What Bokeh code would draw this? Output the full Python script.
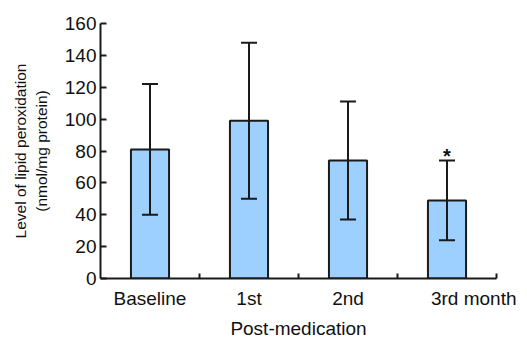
from bokeh.plotting import figure
from bokeh.models import (ColumnDataSource, Range1d, FixedTicker, Whisker, TeeHead)
from bokeh.core.properties import value
from bokeh.embed import file_html
from bokeh.resources import INLINE

categories = ["Baseline", "1st", "2nd", "3rd"]
last_suffix = "month"
means = [81, 99, 74, 49]
sds = [41, 49, 37, 25]
significant = [False, False, False, True]
y_ticks = [0, 20, 40, 60, 80, 100, 120, 140, 160]

FONT = "Liberation Sans"
NB = "\u00a0"
xs = [i + 0.5 for i in range(len(categories))]
src = ColumnDataSource(dict(
    x=xs, top=means,
    upper=[m + s for m, s in zip(means, sds)],
    lower=[m - s for m, s in zip(means, sds)],
))

p = figure(frame_width=396, frame_height=255, output_backend="svg", toolbar_location=None,
           x_range=Range1d(0, len(categories)), y_range=Range1d(0, 160),
           min_border_left=100, min_border_right=20, min_border_top=23, min_border_bottom=50)
p.outline_line_color = None
p.xgrid.visible = False
p.ygrid.visible = False

p.vbar(x="x", top="top", width=0.385, bottom=0, source=src,
       fill_color="#9dcfff", line_color="#1a1a1a", line_width=2)

w = Whisker(base="x", upper="upper", lower="lower", source=src,
            line_color="#1a1a1a", line_width=2,
            upper_head=TeeHead(size=16, line_width=2, line_color="#1a1a1a"),
            lower_head=TeeHead(size=16, line_width=2, line_color="#1a1a1a"))
w.level = "overlay"
p.add_layout(w)

sx = [x for x, s in zip(xs, significant) if s]
sy = [m + s for m, s, g in zip(means, sds, significant) if g]
p.text(x=sx, y=[v + 3 for v in sy], text=["*"] * len(sx), text_align="center",
       text_baseline="middle", text_font=value(FONT), text_font_size="20px",
       text_font_style="bold", text_color="#111111")

# x axis labels; last one carries the "month" suffix, padded so "3rd" stays centred
labels = list(categories)
labels[-1] = NB * 11 + categories[-1] + NB + last_suffix

xa = p.xaxis[0]
xa.ticker = FixedTicker(ticks=xs, minor_ticks=list(range(1, len(categories) + 1)))
xa.major_label_overrides = {x: c for x, c in zip(xs, labels)}
xa.major_tick_in = 0
xa.major_tick_out = 0
xa.minor_tick_in = 5
xa.minor_tick_out = 0
xa.minor_tick_line_width = 2
xa.minor_tick_line_color = "#1a1a1a"
xa.axis_line_width = 2
xa.axis_line_color = "#1a1a1a"
xa.major_label_standoff = 9
xa.major_label_text_font = FONT
xa.major_label_text_font_size = "19px"
xa.major_label_text_color = "#111111"
xa.axis_label = "Post-medication"
xa.axis_label_text_font = FONT
xa.axis_label_text_font_size = "19px"
xa.axis_label_text_font_style = "normal"
xa.axis_label_text_color = "#111111"
xa.axis_label_standoff = 6

# y axis
ya = p.yaxis[0]
ya.ticker = FixedTicker(ticks=y_ticks)
ya.major_tick_in = 6
ya.major_tick_out = 0
ya.minor_tick_in = 0
ya.minor_tick_out = 0
ya.major_tick_line_width = 2
ya.major_tick_line_color = "#1a1a1a"
ya.axis_line_width = 2
ya.axis_line_color = "#1a1a1a"
ya.major_label_standoff = 4
ya.major_label_text_font = FONT
ya.major_label_text_font_size = "19px"
ya.major_label_text_color = "#111111"
ya.axis_label = "Level of lipid peroxidation\n(nmol/mg protein)"
ya.axis_label_text_font = FONT
ya.axis_label_text_font_size = "15.5px"
ya.axis_label_text_font_style = "normal"
ya.axis_label_text_color = "#111111"
ya.axis_label_standoff = 12

open("out.html", "w").write(file_html(p, INLINE))
